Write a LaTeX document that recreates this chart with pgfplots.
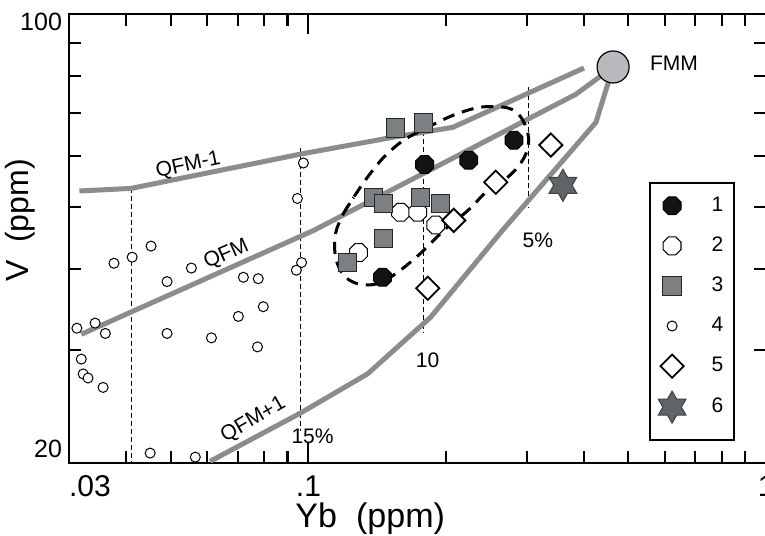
\documentclass[border=0pt]{standalone}
\usepackage{fontspec}
\setmainfont{Liberation Sans}
\usepackage{pgfplots}
\pgfplotsset{compat=1.18}
\usetikzlibrary{calc}
\definecolor{qline}{HTML}{8C8C8C}
\definecolor{sqfill}{HTML}{7A8084}
\definecolor{starfill}{HTML}{5F6467}
\definecolor{fmmfill}{HTML}{B9B9BD}
\definecolor{blk}{HTML}{141414}

% octagon and six-pointed star marks
\pgfdeclareplotmark{oct}{%
  \pgfpathmoveto{\pgfpointpolar{22.5}{\pgfplotmarksize}}%
  \pgfpathlineto{\pgfpointpolar{67.5}{\pgfplotmarksize}}%
  \pgfpathlineto{\pgfpointpolar{112.5}{\pgfplotmarksize}}%
  \pgfpathlineto{\pgfpointpolar{157.5}{\pgfplotmarksize}}%
  \pgfpathlineto{\pgfpointpolar{202.5}{\pgfplotmarksize}}%
  \pgfpathlineto{\pgfpointpolar{247.5}{\pgfplotmarksize}}%
  \pgfpathlineto{\pgfpointpolar{292.5}{\pgfplotmarksize}}%
  \pgfpathlineto{\pgfpointpolar{337.5}{\pgfplotmarksize}}%
  \pgfpathclose\pgfusepathqfillstroke}
\pgfdeclareplotmark{hexstar}{%
  \pgfpathmoveto{\pgfpointpolar{90}{\pgfplotmarksize}}%
  \pgfpathlineto{\pgfpointpolar{120}{0.577\pgfplotmarksize}}%
  \pgfpathlineto{\pgfpointpolar{150}{\pgfplotmarksize}}%
  \pgfpathlineto{\pgfpointpolar{180}{0.577\pgfplotmarksize}}%
  \pgfpathlineto{\pgfpointpolar{210}{\pgfplotmarksize}}%
  \pgfpathlineto{\pgfpointpolar{240}{0.577\pgfplotmarksize}}%
  \pgfpathlineto{\pgfpointpolar{270}{\pgfplotmarksize}}%
  \pgfpathlineto{\pgfpointpolar{300}{0.577\pgfplotmarksize}}%
  \pgfpathlineto{\pgfpointpolar{330}{\pgfplotmarksize}}%
  \pgfpathlineto{\pgfpointpolar{0}{0.577\pgfplotmarksize}}%
  \pgfpathlineto{\pgfpointpolar{30}{\pgfplotmarksize}}%
  \pgfpathlineto{\pgfpointpolar{60}{0.577\pgfplotmarksize}}%
  \pgfpathclose\pgfusepathqfillstroke}

\begin{document}
\begin{tikzpicture}
\begin{axis}[
  name=ax,
  scale only axis, width=348pt, height=224pt,
  xmode=log, ymode=log,
  xmin=0.03, xmax=1, ymin=20, ymax=100,
  axis line style={line width=1.2pt},
  xtick={0.03,0.1,1}, xticklabels={\makebox[0pt][l]{.03},.1,1},
  minor xtick={0.04,0.05,0.06,0.07,0.08,0.09,0.2,0.3,0.4,0.5,0.6,0.7,0.8,0.9},
  ytick={20}, yticklabels={20},
  yticklabel style={yshift=7pt, font=\fontsize{12.5}{14}\selectfont},
  extra y ticks={100}, extra y tick labels={100},
  extra y tick style={yticklabel style={yshift=-11pt}},
  minor ytick={30,40,50,60,70,80,90},
  tick align=inside,
  major tick length=10pt, minor tick length=6pt,
  tick style={black, line width=1pt},
  xticklabel style={yshift=-3pt, font=\fontsize{15}{17}\selectfont},
  xlabel={Yb\ \ (ppm)}, ylabel={V\ \ (ppm)},
  xlabel style={font=\fontsize{17}{19}\selectfont, at={(axis description cs:0.432,-0.124)}, anchor=center},
  ylabel style={font=\fontsize{16}{18}\selectfont, at={(axis description cs:-0.0704,0.54)}, anchor=center},
  legend style={at={(axis description cs:0.832,0.625)}, anchor=north west,
    draw=black, line width=1pt, fill=white, inner xsep=3.6pt, inner ysep=3.75pt,
    font=\fontsize{10.5}{12}\selectfont,
    /tikz/every odd column/.append style={column sep=6.7pt}},
  legend image code/.code={\path[draw=none,fill=none] (-7.4pt,-12.5pt) rectangle (11pt,7.5pt);
    \draw[#1] plot coordinates {(0pt,0pt)};},
]
% dashed verticals
\addplot[black, line width=0.6pt, dash pattern=on 2.5pt off 1.5pt, forget plot] coordinates {(0.0410,53.5) (0.0410,20)};
\addplot[black, line width=0.6pt, dash pattern=on 2.5pt off 1.5pt, forget plot] coordinates {(0.0961,61.8) (0.0961,22.4)};
\addplot[black, line width=0.6pt, dash pattern=on 2.5pt off 1.5pt, forget plot] coordinates {(0.1785,67.6) (0.1785,31.8)};
\addplot[black, line width=0.6pt, dash pattern=on 2.5pt off 1.5pt, forget plot] coordinates {(0.3030,76.9) (0.3030,49.8)};

% QFM-1, QFM, QFM+1
\addplot[qline, line width=2.5pt, forget plot] coordinates {(0.0316,53.0) (0.0410,53.5) (0.0961,60.5) (0.1535,64.3) (0.2066,66.6) (0.400,82.4)};
\addplot[qline, line width=2.5pt, forget plot] coordinates {(0.0319,31.7) (0.1026,46.0) (0.384,75.0) (0.463,82.7)};
\addplot[qline, line width=2.5pt, forget plot] coordinates {(0.0610,20.1) (0.0961,23.9) (0.1346,27.5) (0.1849,33.7) (0.2632,45.7) (0.4247,67.8) (0.463,82.7)};

% dashed envelope
\addplot[black, line width=1.5pt, dash pattern=on 6pt off 4pt, smooth, tension=0.55, forget plot] coordinates {
 (0.1193,48.9) (0.1255,51.8) (0.1346,55.7) (0.1460,59.8) (0.1614,63.6) (0.1822,66.6)
 (0.2077,69.6) (0.2379,71.6) (0.2726,71.4) (0.2911,69.1) (0.3015,65.2) (0.3015,61.8)
 (0.2911,58.6) (0.2726,55.7) (0.2465,53.1) (0.2228,49.4) (0.1974,46.0) (0.1759,42.4)
 (0.1566,39.6) (0.1416,38.0) (0.1281,38.0) (0.1193,39.2) (0.1146,41.8) (0.1146,45.5)
 (0.1193,48.9) (0.1255,51.8)};

% FMM
\addplot[only marks, mark=*, mark size=8pt, mark options={fill=fmmfill, draw=black, line width=0.6pt}, forget plot] coordinates {(0.463,82.7)};

% data
\addplot[only marks, mark=oct, mark size=4.8pt, mark options={fill=blk, draw=black, line width=0.5pt}] coordinates {
 (0.1794,58.3) (0.2239,59.2) (0.2811,63.6) (0.1452,38.9)};
\addplot[only marks, mark=oct, mark size=4.8pt, mark options={fill=white, draw=black, line width=0.5pt}] coordinates {
 (0.1590,49.1) (0.1733,49.1) (0.1897,46.9) (0.1287,42.5)};
\addplot[only marks, mark=square*, mark size=4.6pt, mark options={fill=sqfill, draw=black!85, line width=0.5pt}] coordinates {
 (0.1550,66.4) (0.1785,67.6) (0.1388,51.8) (0.1460,50.7) (0.1759,51.8) (0.1945,50.7) (0.1460,44.7) (0.1217,41.0)};
\addplot[only marks, mark=*, mark size=2.5pt, mark options={fill=white, draw=black, line width=0.5pt}] coordinates {
 (0.0312,32.4) (0.0342,33.0) (0.0360,31.8) (0.0376,40.9) (0.0412,41.8) (0.0453,43.5)
 (0.0491,38.3) (0.0555,40.2) (0.0491,31.8) (0.0614,31.3) (0.0721,38.9) (0.0777,38.7)
 (0.0703,33.8) (0.0797,35.0) (0.0774,30.3) (0.0319,29.0) (0.0322,27.5) (0.0330,27.1)
 (0.0356,26.2) (0.0451,20.7) (0.0566,20.4) (0.0966,41.0) (0.0941,39.9) (0.0975,58.6)
 (0.0946,51.6)};
\addplot[only marks, mark=square*, mark size=4.1pt, mark options={fill=white, draw=black, line width=0.9pt, rotate=45}] coordinates {
 (0.2077,47.7) (0.2566,54.7) (0.3385,62.5) (0.1822,37.4)};
\addplot[only marks, mark=hexstar, mark size=8pt, mark options={fill=starfill, draw=black!75, line width=0.5pt}] coordinates {
 (0.3597,54.1)};
\legend{1,2,3,4,5,6}

% annotations
\node[font=\fontsize{10.5}{12}\selectfont, rotate=12] at (axis cs:0.0546,58.1) {QFM-1};
\node[font=\fontsize{10.5}{12}\selectfont, rotate=24] at (axis cs:0.0662,42.2) {QFM};
\node[font=\fontsize{10.5}{12}\selectfont, rotate=30] at (axis cs:0.0758,23.3) {QFM+1};
\node[font=\fontsize{10.5}{12}\selectfont] at (axis cs:0.1021,22.0) {15\%};
\node[font=\fontsize{10.5}{12}\selectfont] at (axis cs:0.1822,28.85) {10};
\node[font=\fontsize{10.5}{12}\selectfont] at (axis cs:0.3172,44.4) {5\%};
\node[font=\fontsize{10.5}{12}\selectfont, anchor=west] at (axis cs:0.538,83.9) {FMM};
\end{axis}
\pgfresetboundingbox
\path ($(ax.south west)+(-34.5pt,-36.5pt)$) rectangle ($(ax.north east)+(-0.6pt,7pt)$);
\end{tikzpicture}
\end{document}
